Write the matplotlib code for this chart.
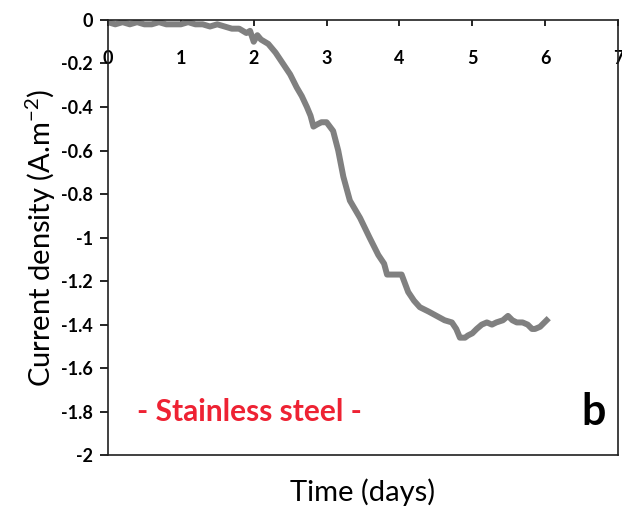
import matplotlib
matplotlib.use("Agg")
import matplotlib.pyplot as plt

plt.rcParams['font.family'] = ['Lato', 'DejaVu Sans']

# current density trace
days = [0.0, 0.1, 0.2, 0.3, 0.4, 0.5, 0.6, 0.7, 0.8, 0.9, 1.0, 1.1, 1.2, 1.3,
        1.4, 1.5, 1.6, 1.7, 1.8, 1.9, 1.95, 2.0, 2.05, 2.1, 2.2, 2.3, 2.4, 2.5,
        2.59, 2.66, 2.73, 2.78, 2.82, 2.87, 2.93, 3.0, 3.09, 3.16, 3.23, 3.32,
        3.46, 3.59, 3.71, 3.79, 3.83, 3.93, 4.03, 4.12, 4.2, 4.28, 4.4, 4.51,
        4.62, 4.72, 4.78, 4.83, 4.9, 4.94, 5.0, 5.06, 5.13, 5.2, 5.27, 5.33,
        5.42, 5.49, 5.55, 5.61, 5.69, 5.76, 5.82, 5.86, 5.93, 6.02]
current = [-0.01, -0.02, -0.01, -0.02, -0.01, -0.02, -0.02, -0.01, -0.02,
           -0.02, -0.02, -0.01, -0.02, -0.02, -0.03, -0.02, -0.03, -0.04,
           -0.04, -0.06, -0.05, -0.10, -0.07, -0.09, -0.11, -0.15, -0.20,
           -0.25, -0.31, -0.35, -0.40, -0.44, -0.49, -0.48, -0.47, -0.47,
           -0.51, -0.60, -0.72, -0.83, -0.91, -1.00, -1.08, -1.12, -1.17,
           -1.17, -1.17, -1.25, -1.29, -1.32, -1.34, -1.36, -1.38, -1.39,
           -1.42, -1.46, -1.46, -1.45, -1.44, -1.42, -1.40, -1.39, -1.40,
           -1.39, -1.38, -1.36, -1.38, -1.39, -1.39, -1.40, -1.42, -1.42,
           -1.41, -1.38]

x_ticks = [0, 1, 2, 3, 4, 5, 6, 7]
x_labels = ['0', '1', '2', '3', '4', '5', '6', '7']
y_ticks = [0, -0.2, -0.4, -0.6, -0.8, -1, -1.2, -1.4, -1.6, -1.8, -2]
y_labels = ['0', '-0.2', '-0.4', '-0.6', '-0.8', '-1', '-1.2', '-1.4',
            '-1.6', '-1.8', '-2']

fig = plt.figure(figsize=(6.22, 5.12), dpi=100)
ax = fig.add_axes([0.1736, 0.111, 0.82, 0.85])

ax.plot(days, current, color='#808080', linewidth=4.3, solid_joinstyle='round')

ax.set_xlim(0, 7)
ax.set_ylim(-2, 0)

ax.set_xticks(x_ticks)
ax.set_xticklabels(x_labels, fontsize=13, fontweight='bold')
ax.tick_params(axis='x', top=True, bottom=False, labeltop=True, labelbottom=False,
               direction='in', length=4, width=1.2, pad=-34)
ax.set_yticks(y_ticks)
ax.set_yticklabels(y_labels, fontsize=13, fontweight='bold')
ax.tick_params(axis='y', direction='out', length=6, width=1.2, pad=5)

for s in ax.spines.values():
    s.set_linewidth(1.2)
    s.set_color('#202020')

ax.set_xlabel('Time (days)', fontsize=21, labelpad=17)
ax.set_ylabel('Current density (A.m$^{\\mathregular{-2}}$)', fontsize=21, labelpad=2)

ax.text(0.056, 0.1, '- Stainless steel -', transform=ax.transAxes, color='#ee2233',
        fontsize=21.5, fontweight='bold', va='center', ha='left')
ax.text(0.975, 0.1, 'b', transform=ax.transAxes, color='black',
        fontsize=31, fontweight='bold', va='center', ha='right')

fig.savefig('out.png', dpi=100)
